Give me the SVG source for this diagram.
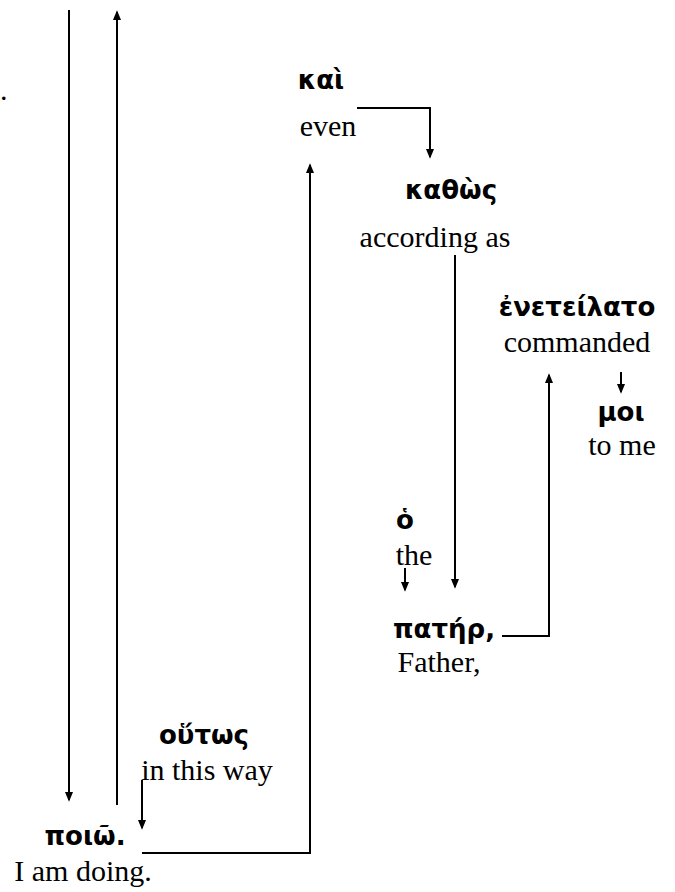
<svg xmlns="http://www.w3.org/2000/svg" width="675" height="892" viewBox="0 0 675 892">
<style>
.gr{font-family:"DejaVu Sans",sans-serif;font-weight:bold;font-size:26px;fill:#000;text-anchor:middle}
.en{font-family:"Liberation Serif",serif;font-size:30px;fill:#000;text-anchor:middle}
.ln{fill:none;stroke:#000;stroke-width:2}
</style>
<defs>
<marker id="ah" markerWidth="10" markerHeight="12" refX="10" refY="5" orient="auto" markerUnits="userSpaceOnUse" viewBox="0 0 12 10">
<path d="M0,0 L12,5 L0,10 Z" fill="#000"/>
</marker>
</defs>
<rect width="675" height="892" fill="#fff"/>
<g id="connectors">
<path class="ln" d="M69,10 V800" marker-end="url(#ah)"/>
<path class="ln" d="M117,805 V12" marker-end="url(#ah)"/>
<path class="ln" d="M357,108 H430 V157" marker-end="url(#ah)"/>
<path class="ln" d="M142,853 H310 V165" marker-end="url(#ah)"/>
<path class="ln" d="M455,255 V587" marker-end="url(#ah)"/>
<path class="ln" d="M621,372 V392" marker-end="url(#ah)"/>
<path class="ln" d="M502,636 H549 V375" marker-end="url(#ah)"/>
<path class="ln" d="M405,568 V590" marker-end="url(#ah)"/>
<path class="ln" d="M142,780 V828" marker-end="url(#ah)"/>
</g>
<g id="dot"><text class="en" x="0" y="100" style="text-anchor:start">.</text></g>
<g id="kai"><text class="gr" x="321" y="89">καὶ</text><text class="en" x="328" y="136">even</text></g>
<g id="kathos"><text class="gr" x="451" y="199">καθὼς</text><text class="en" x="435" y="247">according as</text></g>
<g id="eneteilato"><text class="gr" x="577" y="316">ἐνετείλατο</text><text class="en" x="577" y="352">commanded</text></g>
<g id="moi"><text class="gr" x="621" y="421">μοι</text><text class="en" x="622" y="455">to me</text></g>
<g id="ho"><text class="gr" x="405" y="529">ὁ</text><text class="en" x="414" y="565">the</text></g>
<g id="pater"><text class="gr" x="444" y="638">πατήρ,</text><text class="en" x="439" y="672">Father,</text></g>
<g id="houtos"><text class="gr" x="204" y="744">οὕτως</text><text class="en" x="207" y="780">in this way</text></g>
<g id="poio"><text class="gr" x="85" y="845">ποιῶ.</text><text class="en" x="83" y="881">I am doing.</text></g>
</svg>
